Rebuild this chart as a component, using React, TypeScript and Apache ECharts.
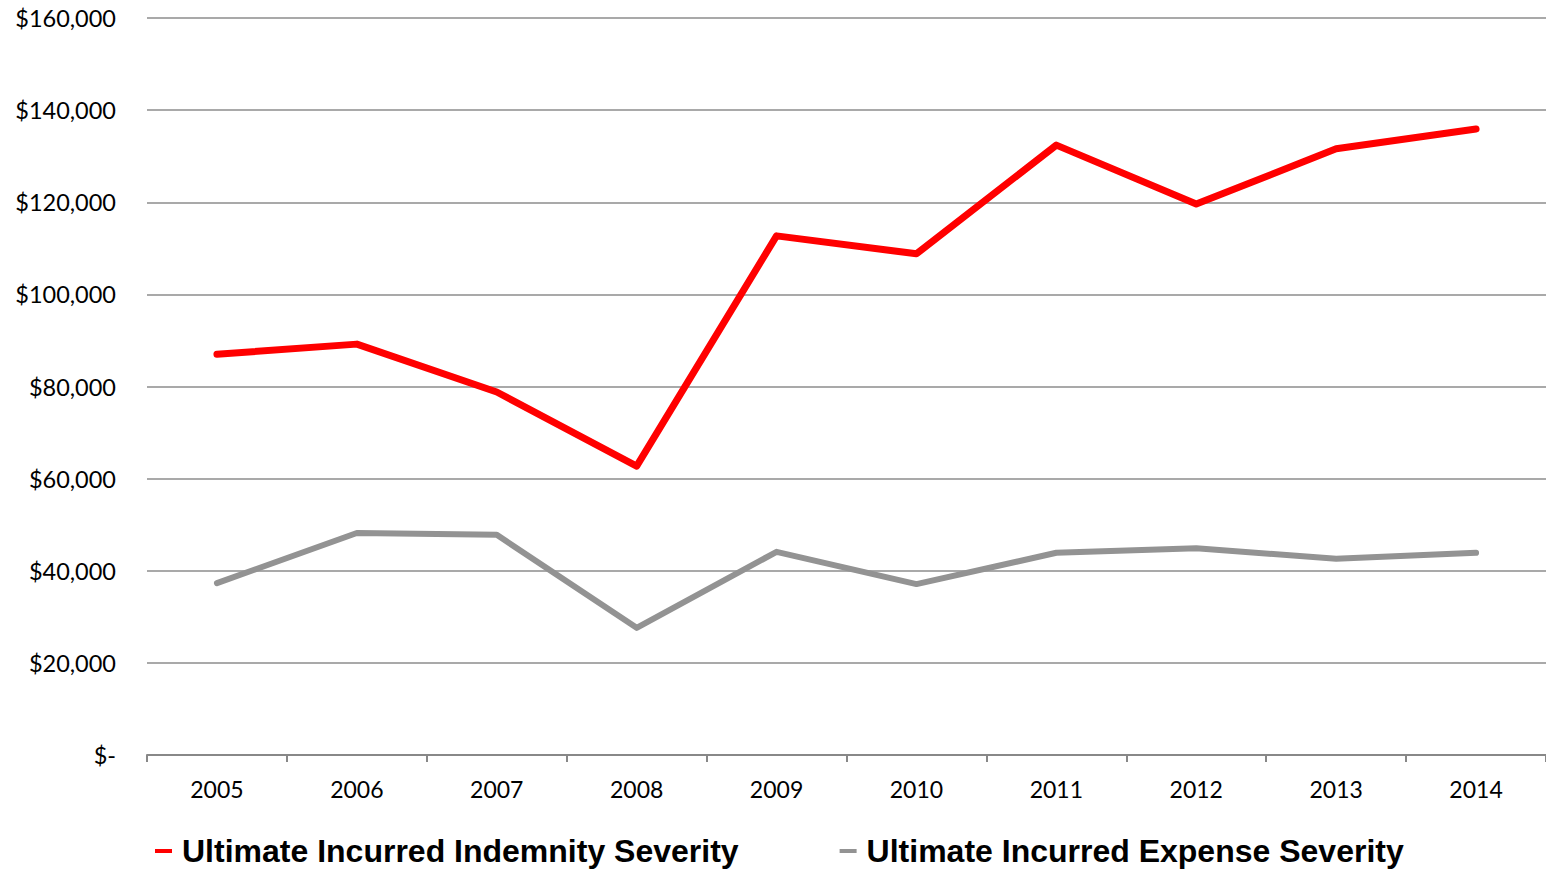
import React, { useEffect, useRef } from "react";
import * as echarts from "echarts";

const years = ["2005", "2006", "2007", "2008", "2009", "2010", "2011", "2012", "2013", "2014"];
const indemnity = [87000, 89200, 78800, 62700, 112700, 108800, 132400, 119600, 131600, 135900];
const expense = [37300, 48200, 47800, 27600, 44100, 37100, 43900, 44900, 42600, 43900];
const seriesNames = ["Ultimate Incurred Indemnity Severity", "Ultimate Incurred Expense Severity"];

export default function App() {
  const ref = useRef<HTMLDivElement>(null);
  useEffect(() => {
    const chart = echarts.init(ref.current!, null, { renderer: "svg" });
    chart.setOption({
      animation: false,
      grid: { left: 147, right: 0, top: 18, bottom: 114, containLabel: false },
      legend: {
        left: 155,
        top: 835,
        padding: 0,
        itemWidth: 17,
        itemHeight: 4,
        itemGap: 101,
        icon: "rect",
        textStyle: { fontFamily: "Arial", fontWeight: "bold", fontSize: 32, color: "#000", padding: [0, 0, 0, 5] },
        data: seriesNames,
      },
      xAxis: {
        type: "category",
        data: years,
        boundaryGap: true,
        axisLine: { lineStyle: { color: "#888", width: 2 } },
        axisTick: { show: true, length: 7, lineStyle: { color: "#888", width: 2 } },
        axisLabel: { color: "#000", fontFamily: "Lato", fontSize: 23, margin: 22 },
      },
      yAxis: {
        type: "value",
        min: 0,
        max: 160000,
        interval: 20000,
        axisLine: { show: false },
        axisTick: { show: false },
        splitLine: { lineStyle: { color: "#8c8c8c", width: 1.5 } },
        axisLabel: {
          color: "#000",
          fontFamily: "Lato",
          fontSize: 23.5,
          margin: 31,
          formatter: (v: number) => (v === 0 ? "$-" : "$" + v.toLocaleString("en-US")),
        },
      },
      series: [
        {
          name: seriesNames[0],
          type: "line",
          data: indemnity,
          symbol: "none",
          itemStyle: { color: "#ff0000" },
          lineStyle: { color: "#ff0000", width: 7, cap: "round", join: "round" },
        },
        {
          name: seriesNames[1],
          type: "line",
          data: expense,
          symbol: "none",
          itemStyle: { color: "#939393" },
          lineStyle: { color: "#939393", width: 6, cap: "round", join: "round" },
        },
      ],
    });
    return () => chart.dispose();
  }, []);
  return <div ref={ref} style={{ position: "fixed", left: 0, top: 0, width: 1546, height: 869, background: "#fff" }} />;
}
